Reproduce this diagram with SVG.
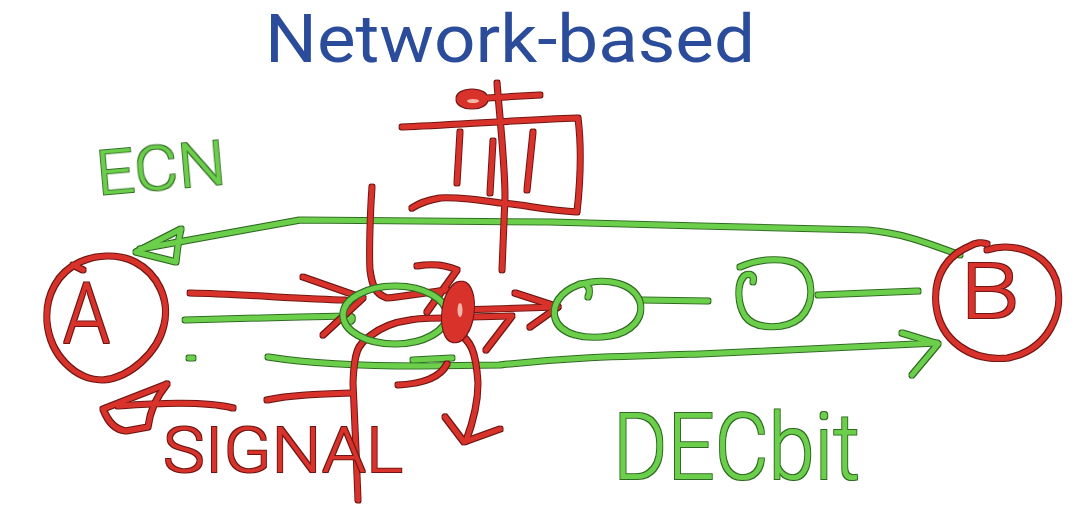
<svg xmlns="http://www.w3.org/2000/svg" width="1075" height="532" viewBox="0 0 1075 532">
  <defs>
    <style>
      .r { fill: none; stroke: #d8322c; stroke-width: 5; stroke-linecap: round; stroke-linejoin: round; }
      .g { fill: none; stroke: #6ccf4c; stroke-width: 5; stroke-linecap: round; stroke-linejoin: round; }
      .rfill { fill: #d8322c; }
      .hand { font-family: Roboto, "Liberation Sans", sans-serif; font-weight: 300; }
      .tr { fill: #d8322c; }
      .tg { fill: #6ccf4c; }
      .title { font-family: Roboto, "Liberation Sans", sans-serif; font-size: 66px; fill: #2b4c9b; }
    </style>
    <!-- thin dark rim around the marker strokes -->
    <filter id="rimRed" filterUnits="userSpaceOnUse" x="0" y="0" width="1075" height="532">
      <feMorphology in="SourceAlpha" operator="dilate" radius="0.9" result="d"/>
      <feFlood flood-color="#6e1712"/>
      <feComposite in2="d" operator="in" result="o"/>
      <feMerge><feMergeNode in="o"/><feMergeNode in="SourceGraphic"/></feMerge>
    </filter>
    <filter id="rimGreen" filterUnits="userSpaceOnUse" x="0" y="0" width="1075" height="532">
      <feMorphology in="SourceAlpha" operator="dilate" radius="0.9" result="d"/>
      <feFlood flood-color="#2f6a22"/>
      <feComposite in2="d" operator="in" result="o"/>
      <feMerge><feMergeNode in="o"/><feMergeNode in="SourceGraphic"/></feMerge>
    </filter>
  </defs>

  <rect width="1075" height="532" fill="#ffffff"/>

  <text class="title" x="265" y="62" textLength="490" lengthAdjust="spacingAndGlyphs">Network-based</text>

  <!-- connectors -->
  <g id="connectors">
    <g id="green-links" filter="url(#rimGreen)">
      <!-- ECN feedback from B back to A -->
      <path class="g" d="M 960 255 C 935 246 905 233 867 230 L 700 226 L 550 222 L 300 220 L 140 249"/>
      <path class="g" d="M 181 229 C 178 242 177 252 176 262 L 136 252 L 181 229"/>
      <!-- A to router -->
      <path class="g" d="M 185 320 L 300 317 L 350 316 C 354 318 352 322 348 321"/>
      <!-- DECbit path to B -->
      <path class="g" d="M 268 357 C 300 362 350 366 420 366 L 500 365 C 560 358 600 357 700 354 L 937 343"/>
      <path class="g" d="M 902 333 L 938 344 L 912 375"/>
      <path class="g" d="M 413 360 L 452 358"/>
      <path class="g" d="M 189 358 L 193 358"/>
      <!-- links between routers -->
      <path class="g" d="M 642 300 L 708 301"/>
      <path class="g" d="M 818 295 L 868 293 L 918 291"/>
    </g>
    <g id="red-links" filter="url(#rimRed)">
      <!-- A into router -->
      <path class="r" d="M 190 293 C 240 294 300 299 345 300"/>
      <path class="r" d="M 303 277 L 363 298 L 323 335"/>
      <!-- flow bending onto the router top -->
      <path class="r" d="M 372 187 C 370 215 369 255 370 270 C 372 285 375 294 387 298 C 405 296 430 292 447 290"/>
      <path class="r" d="M 417 266 Q 440 262 457 270 L 427 312"/>
      <!-- router to next hop -->
      <path class="r" d="M 458 310 L 558 307"/>
      <path class="r" d="M 515 293 L 558 307 L 530 327"/>
      <path class="r" d="M 470 317 L 512 316 L 486 350"/>
      <!-- return path and long stem -->
      <path class="r" d="M 445 318 C 430 318 415 319 410 320 C 395 322 380 328 370 336 C 358 344 354 352 353 383 L 356 450 L 358 500"/>
      <path class="r" d="M 267 400 C 290 395 320 394 352 393"/>
      <path class="r" d="M 398 385 C 420 384 440 378 447 364"/>
      <!-- drop arrow -->
      <path class="r" d="M 458 333 C 470 340 476 350 478 383 C 478 405 472 425 466 441"/>
      <path class="r" d="M 445 417 L 464 442 L 500 429"/>
      <!-- SIGNAL arrow back to A -->
      <path class="r" d="M 233 408 C 210 402 170 402 118 406"/>
      <path class="r" d="M 167 384 L 103 409 C 108 422 116 430 126 431 L 148 427 C 150 410 158 395 167 384"/>
    </g>
  </g>

  <!-- hosts -->
  <g id="nodeA" filter="url(#rimRed)">
    <path class="r" d="M 73 265 L 83 270 M 80 262 C 95 255 118 253 135 262 C 158 274 170 300 164 325 C 158 352 130 378 103 380 C 75 380 50 355 47 322 C 45 295 58 272 80 262"/>
    <text class="hand tr" x="63" y="343" font-size="86" textLength="47" lengthAdjust="spacingAndGlyphs">A</text>
  </g>
  <g id="nodeB" filter="url(#rimRed)">
    <path class="r" d="M 970 246 C 976 242 983 242 987 244 M 987 250 C 1010 242 1045 250 1056 280 C 1066 312 1048 350 1008 358 C 970 362 940 340 936 305 C 933 275 948 255 970 246"/>
    <text class="hand tr" x="960" y="318" font-size="78" textLength="60" lengthAdjust="spacingAndGlyphs">B</text>
  </g>

  <!-- routers -->
  <g id="router1" filter="url(#rimGreen)">
    <ellipse class="g" cx="395" cy="315" rx="52" ry="29"/>
  </g>
  <g id="marker" filter="url(#rimRed)">
    <ellipse class="rfill" cx="458" cy="312" rx="14" ry="29" stroke="#d8322c" stroke-width="3" transform="rotate(8 458 312)"/>
    <ellipse cx="460" cy="310" rx="2.5" ry="7" fill="#f3b7a8"/>
  </g>
  <g id="router2" filter="url(#rimGreen)">
    <path class="g" d="M 588 297 C 592 288 586 280 578 285 C 560 292 552 305 555 318 C 560 335 585 340 610 336 C 632 332 644 318 640 302 C 634 284 608 276 578 285"/>
  </g>
  <g id="router3" filter="url(#rimGreen)">
    <path class="g" d="M 753 282 C 755 276 750 272 744 276 C 736 285 738 305 745 316 C 755 330 785 330 800 318 C 815 304 814 278 800 266 C 788 257 760 258 740 267"/>
  </g>

  <!-- buffer queue above the first router -->
  <g id="queue" filter="url(#rimRed)">
    <path class="r" d="M 402 127 C 450 125 520 120 578 118 C 582 150 580 185 577 212 C 545 210 520 204 500 203 C 480 200 460 197 440 198 C 428 200 418 204 412 208"/>
    <path class="r" d="M 460 132 L 457 183"/>
    <path class="r" d="M 493 141 L 490 193"/>
    <path class="r" d="M 533 132 L 527 190"/>
    <path class="r" d="M 497 83 C 500 120 505 165 505 197 L 502 270"/>
    <path class="r" d="M 487 98 L 540 95"/>
    <ellipse class="rfill" cx="472" cy="99" rx="14" ry="8" stroke="#d8322c" stroke-width="3"/>
    <ellipse cx="473" cy="101" rx="6" ry="2" fill="#f3b7a8"/>
  </g>

  <!-- labels -->
  <g id="labels">
    <text class="hand tg" x="98" y="195" font-size="62" textLength="130" lengthAdjust="spacingAndGlyphs" transform="rotate(-5 98 195)" filter="url(#rimGreen)">ECN</text>
    <text class="hand tr" x="163" y="472" font-size="63" textLength="240" lengthAdjust="spacingAndGlyphs" filter="url(#rimRed)">SIGNAL</text>
    <text class="hand tg" x="613" y="479" font-size="92" textLength="247" lengthAdjust="spacingAndGlyphs" filter="url(#rimGreen)">DECbit</text>
  </g>
</svg>
